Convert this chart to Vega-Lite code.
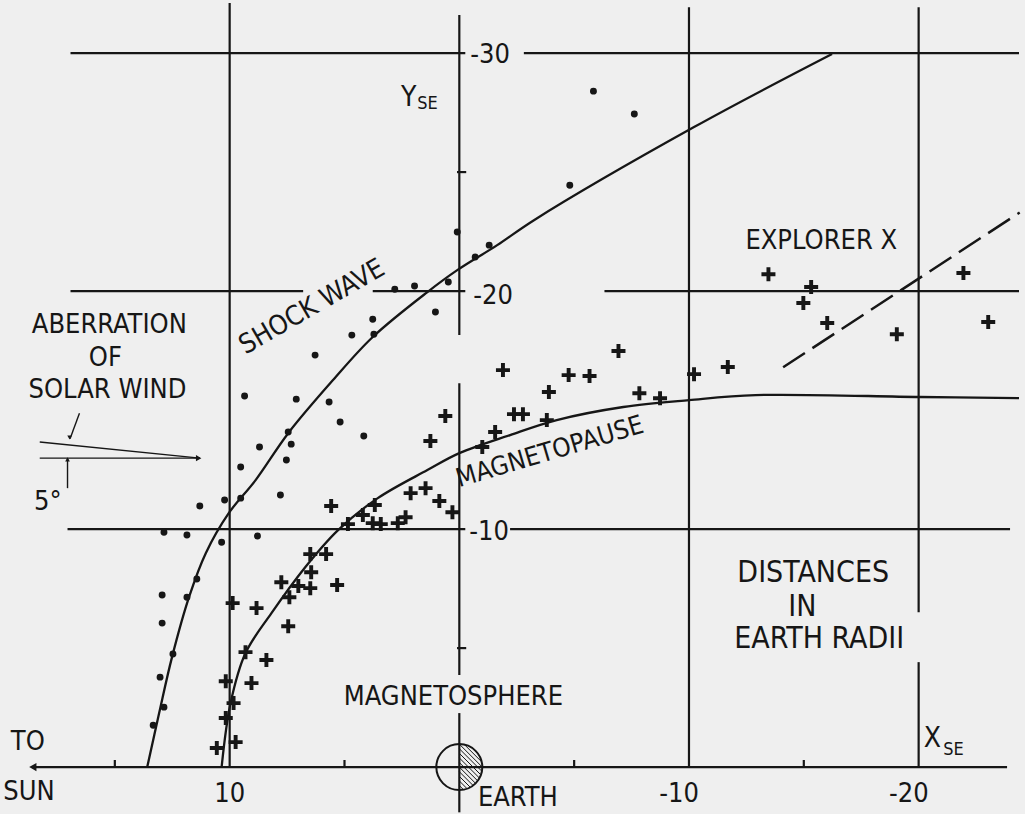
{
  "$schema": "https://vega.github.io/schema/vega-lite/v6.json",
  "width": 1025,
  "height": 814,
  "autosize": {"type": "fit", "contains": "padding"},
  "padding": 0,
  "background": "#efefef",
  "config": {"view": {"stroke": null}},
  "datasets": {
    "dots": [{"x":0.09,"y":-22.48},{"x":-0.69,"y":-21.43},{"x":-1.30,"y":-21.93},{"x":0.48,"y":-20.38},{"x":1.04,"y":-19.12},{"x":2.81,"y":-20.08},{"x":1.95,"y":-20.21},{"x":3.77,"y":-18.82},{"x":3.72,"y":-18.19},{"x":4.68,"y":-18.15},{"x":6.28,"y":-17.31},{"x":9.35,"y":-15.59},{"x":7.10,"y":-15.46},{"x":5.67,"y":-15.34},{"x":-5.84,"y":-28.40},{"x":-7.62,"y":-27.44},{"x":-4.81,"y":-24.45},{"x":5.19,"y":-14.50},{"x":4.16,"y":-13.91},{"x":7.45,"y":-14.08},{"x":7.32,"y":-13.57},{"x":8.70,"y":-13.45},{"x":7.53,"y":-12.90},{"x":9.52,"y":-12.61},{"x":7.79,"y":-11.43},{"x":9.52,"y":-11.30},{"x":10.22,"y":-11.22},{"x":11.30,"y":-10.97},{"x":12.86,"y":-9.87},{"x":11.86,"y":-9.75},{"x":8.79,"y":-9.71},{"x":10.35,"y":-9.45},{"x":11.43,"y":-7.90},{"x":12.94,"y":-7.23},{"x":11.86,"y":-7.14},{"x":12.94,"y":-6.05},{"x":12.47,"y":-4.75},{"x":13.03,"y":-3.78},{"x":12.86,"y":-2.52},{"x":13.33,"y":-1.76}],
    "plus": [{"x":5.58,"y":-10.97},{"x":4.85,"y":-10.21},{"x":6.49,"y":-8.95},{"x":5.80,"y":-8.95},{"x":6.45,"y":-8.19},{"x":7.75,"y":-7.77},{"x":7.01,"y":-7.61},{"x":6.49,"y":-7.52},{"x":5.32,"y":-7.65},{"x":7.40,"y":-7.14},{"x":9.87,"y":-6.89},{"x":8.83,"y":-6.68},{"x":7.45,"y":-5.92},{"x":9.31,"y":-4.83},{"x":8.40,"y":-4.50},{"x":10.17,"y":-3.61},{"x":9.05,"y":-3.53},{"x":9.83,"y":-2.69},{"x":10.17,"y":-2.06},{"x":9.74,"y":-1.05},{"x":10.56,"y":-0.80},{"x":0.61,"y":-14.75},{"x":1.26,"y":-13.70},{"x":4.20,"y":-10.59},{"x":3.68,"y":-11.01},{"x":3.77,"y":-10.25},{"x":3.42,"y":-10.21},{"x":2.68,"y":-10.25},{"x":2.34,"y":-10.50},{"x":2.12,"y":-11.51},{"x":1.47,"y":-11.72},{"x":0.87,"y":-11.18},{"x":0.30,"y":-10.71},{"x":-1.00,"y":-13.45},{"x":-1.56,"y":-14.08},{"x":-2.38,"y":-14.83},{"x":-2.77,"y":-14.83},{"x":-3.81,"y":-14.58},{"x":-1.90,"y":-16.68},{"x":-3.90,"y":-15.76},{"x":-4.76,"y":-16.47},{"x":-5.67,"y":-16.43},{"x":-6.93,"y":-17.48},{"x":-7.84,"y":-15.71},{"x":-8.74,"y":-15.50},{"x":-10.22,"y":-16.51},{"x":-11.69,"y":-16.81},{"x":-13.46,"y":-20.71},{"x":-15.32,"y":-20.17},{"x":-14.98,"y":-19.50},{"x":-16.02,"y":-18.66},{"x":-19.05,"y":-18.19},{"x":-21.95,"y":-20.76},{"x":-23.03,"y":-18.70}],
    "shock": [{"x":13.59,"y":0},{"x":13.07,"y":-2.27},{"x":12.51,"y":-4.62},{"x":11.77,"y":-7.14},{"x":11.04,"y":-8.99},{"x":10.04,"y":-10.67},{"x":8.87,"y":-12.06},{"x":7.45,"y":-14.03},{"x":5.50,"y":-16.26},{"x":3.77,"y":-18.07},{"x":1.39,"y":-19.96},{"x":0.09,"y":-20.88},{"x":-1.65,"y":-21.93},{"x":-3.25,"y":-22.98},{"x":-10.22,"y":-26.89},{"x":-16.23,"y":-29.96}],
    "dash": [{"x":-14.1,"y":-16.8},{"x":-24.4,"y":-23.3}],
    "mpause": [{"x":10.35,"y":0},{"x":9.96,"y":-2.69},{"x":9.31,"y":-4.79},{"x":8.18,"y":-6.47},{"x":6.71,"y":-8.40},{"x":5.28,"y":-9.96},{"x":3.55,"y":-11.30},{"x":1.39,"y":-12.48},{"x":0,"y":-13.19},{"x":-2.21,"y":-13.95},{"x":-4.24,"y":-14.58},{"x":-7.14,"y":-15.13},{"x":-10.0,"y":-15.42},{"x":-12.9,"y":-15.63},{"x":-20.04,"y":-15.55},{"x":-24.37,"y":-15.50}],
    "segs": [
      {"x":16.93,"y":-30,"x2":-0.26,"y2":-30},
      {"x":-2.81,"y":-30,"x2":-24.37,"y2":-30},
      {"x":16.93,"y":-20,"x2":6.80,"y2":-20},
      {"x":3.77,"y":-20,"x2":-0.26,"y2":-20},
      {"x":-6.32,"y":-20,"x2":-24.37,"y2":-20},
      {"x":17.06,"y":-10,"x2":-0.26,"y2":-10},
      {"x":-2.21,"y":-10,"x2":-23.98,"y2":-10},
      {"x":18.6,"y":0,"x2":-23.85,"y2":0},
      {"x":10,"y":-32.1,"x2":10,"y2":0},
      {"x":0,"y":-31.6,"x2":0,"y2":-18.15},
      {"x":0,"y":-16.13,"x2":0,"y2":-3.87},
      {"x":0,"y":-2.27,"x2":0,"y2":1.9},
      {"x":-10,"y":-31.93,"x2":-10,"y2":0},
      {"x":-20,"y":-31.93,"x2":-20,"y2":-6.51},
      {"x":-20,"y":-4.41,"x2":-20,"y2":0},
      {"x":15,"y":0,"x2":15,"y2":-0.3},
      {"x":5,"y":0,"x2":5,"y2":-0.3},
      {"x":-5,"y":0,"x2":-5,"y2":-0.3},
      {"x":-15,"y":0,"x2":-15,"y2":-0.3},
      {"x":0.1,"y":-25,"x2":-0.3,"y2":-25},
      {"x":0.1,"y":-5,"x2":-0.3,"y2":-5}
    ],
    "aber": [
      {"x":18.27,"y":-12.98,"x2":11.3,"y2":-12.98},
      {"x":18.27,"y":-13.66,"x2":11.3,"y2":-12.98},
      {"x":17.06,"y":-12.95,"x2":17.06,"y2":-11.72},
      {"x":16.54,"y":-14.87,"x2":16.95,"y2":-13.8}
    ],
    "earth": [{"x":0,"y":0}],
    "txtA": [
      {"x":15.24,"y":-18.57,"t":"ABERRATION"},
      {"x":15.41,"y":-17.18,"t":"OF"},
      {"x":15.32,"y":-15.84,"t":"SOLAR WIND"},
      {"x":0.26,"y":-2.94,"t":"MAGNETOSPHERE"},
      {"x":-15.76,"y":-22.10,"t":"EXPLORER X"},
      {"x":18.79,"y":-1.05,"t":"TO"},
      {"x":18.74,"y":1.05,"t":"SUN"},
      {"x":-2.55,"y":1.30,"t":"EARTH"},
      {"x":17.92,"y":-11.13,"t":"5°"}
    ],
    "ticks": [
      {"x":-1.34,"y":-29.92,"t":"-30"},
      {"x":-1.47,"y":-19.79,"t":"-20"},
      {"x":-1.30,"y":-9.87,"t":"-10"},
      {"x":10,"y":1.13,"t":"10"},
      {"x":-9.57,"y":1.13,"t":"-10"},
      {"x":-19.57,"y":1.13,"t":"-20"}
    ],
    "txtC": [
      {"x":-15.41,"y":-8.15,"t":"DISTANCES"},
      {"x":-14.94,"y":-6.72,"t":"IN"},
      {"x":-15.67,"y":-5.38,"t":"EARTH RADII"}
    ],
    "shockLbl": [{"x":6.41,"y":-19.33,"t":"SHOCK WAVE"}],
    "mpLbl": [{"x":-3.94,"y":-13.24,"t":"MAGNETOPAUSE"}],
    "axMain": [{"x":2.21,"y":-28.11,"t":"Y"},{"x":-20.6,"y":-1.18,"t":"X"}],
    "axSub": [{"x":1.39,"y":-27.86,"t":"SE"},{"x":-21.52,"y":-0.71,"t":"SE"}],
    "arrL": [{"x":18.57,"y":0}],
    "arrR": [{"x":11.35,"y":-12.98}],
    "arrD": [{"x":16.97,"y":-13.85}],
    "arrU": [{"x":17.06,"y":-12.93}]
  },
  "encoding": {
    "x": {"field": "x", "type": "quantitative", "scale": {"domain": [-24.37, 20], "reverse": true, "nice": false, "zero": false}, "axis": null},
    "y": {"field": "y", "type": "quantitative", "scale": {"domain": [-32.23, 1.97], "reverse": true, "nice": false, "zero": false}, "axis": null}
  },
  "layer": [
    {"data": {"name": "segs"}, "mark": {"type": "rule", "stroke": "#161616", "strokeWidth": 2.2},
     "encoding": {"x2": {"field": "x2"}, "y2": {"field": "y2"}}},
    {"data": {"name": "aber"}, "mark": {"type": "rule", "stroke": "#161616", "strokeWidth": 1.4},
     "encoding": {"x2": {"field": "x2"}, "y2": {"field": "y2"}}},
    {"data": {"name": "arrL"}, "mark": {"type": "point", "shape": "triangle-left", "filled": true, "fill": "#161616", "size": 70, "opacity": 1}},
    {"data": {"name": "arrR"}, "mark": {"type": "point", "shape": "triangle-right", "filled": true, "fill": "#161616", "size": 40, "opacity": 1}},
    {"data": {"name": "arrD"}, "mark": {"type": "point", "shape": "triangle-down", "filled": true, "fill": "#161616", "size": 22, "opacity": 1}},
    {"data": {"name": "arrU"}, "mark": {"type": "point", "shape": "triangle-up", "filled": true, "fill": "#161616", "size": 22, "opacity": 1}},
    {"data": {"name": "shock"}, "mark": {"type": "line", "stroke": "#161616", "strokeWidth": 2.3, "interpolate": "catmull-rom"}},
    {"data": {"name": "dash"}, "mark": {"type": "line", "stroke": "#161616", "strokeWidth": 2.5, "strokeDash": [26, 9]}},
    {"data": {"name": "mpause"}, "mark": {"type": "line", "stroke": "#161616", "strokeWidth": 2.3, "interpolate": "catmull-rom"}},
    {"data": {"name": "dots"}, "mark": {"type": "point", "shape": "circle", "filled": true, "fill": "#161616", "size": 48, "opacity": 1}},
    {"data": {"name": "plus"}, "mark": {"type": "point", "shape": "M-1,-0.28H-0.28V-1H0.28V-0.28H1V0.28H0.28V1H-0.28V0.28H-1Z", "filled": true, "fill": "#161616", "size": 196, "opacity": 1}},
    {"data": {"name": "earth"}, "mark": {"type": "point", "shape": "M0,0.8L0.183,0.983M0,0.6L0.34,0.94M0,0.4L0.478,0.878M0,0.2L0.6,0.8M0,0L0.707,0.707M0,-0.2L0.8,0.6M0,-0.4L0.878,0.478M0,-0.6L0.94,0.34M0,-0.8L0.983,0.183M0,-1L1,0M0.226,-0.974L0.974,-0.226M0.6,-0.8L0.8,-0.6", "filled": false, "stroke": "#161616", "strokeWidth": 1, "size": 2116, "opacity": 1}},
    {"data": {"name": "earth"}, "mark": {"type": "point", "shape": "circle", "filled": false, "stroke": "#161616", "strokeWidth": 2, "size": 2116, "opacity": 1}},
    {"data": {"name": "txtA"}, "mark": {"type": "text", "font": "Liberation Sans Narrow, DejaVu Sans Condensed, Roboto, sans-serif", "fontSize": 27, "fill": "#161616", "align": "center", "baseline": "middle"},
     "encoding": {"text": {"field": "t"}}},
    {"data": {"name": "ticks"}, "mark": {"type": "text", "font": "Liberation Sans Narrow, DejaVu Sans Condensed, Roboto, sans-serif", "fontSize": 27, "fill": "#161616", "align": "center", "baseline": "middle"},
     "encoding": {"text": {"field": "t"}}},
    {"data": {"name": "txtC"}, "mark": {"type": "text", "font": "Liberation Sans Narrow, DejaVu Sans Condensed, Roboto, sans-serif", "fontSize": 30, "fill": "#161616", "align": "center", "baseline": "middle"},
     "encoding": {"text": {"field": "t"}}},
    {"data": {"name": "shockLbl"}, "mark": {"type": "text", "font": "Liberation Sans Narrow, DejaVu Sans Condensed, Roboto, sans-serif", "fontSize": 27, "angle": -30, "fill": "#161616", "align": "center", "baseline": "middle"},
     "encoding": {"text": {"field": "t"}}},
    {"data": {"name": "mpLbl"}, "mark": {"type": "text", "font": "Liberation Sans Narrow, DejaVu Sans Condensed, Roboto, sans-serif", "fontSize": 26, "angle": -16.5, "fill": "#161616", "align": "center", "baseline": "middle"},
     "encoding": {"text": {"field": "t"}}},
    {"data": {"name": "axMain"}, "mark": {"type": "text", "font": "Liberation Sans Narrow, DejaVu Sans Condensed, Roboto, sans-serif", "fontSize": 28, "fill": "#161616", "align": "center", "baseline": "middle"},
     "encoding": {"text": {"field": "t"}}},
    {"data": {"name": "axSub"}, "mark": {"type": "text", "font": "Liberation Sans Narrow, DejaVu Sans Condensed, Roboto, sans-serif", "fontSize": 18, "fill": "#161616", "align": "center", "baseline": "middle"},
     "encoding": {"text": {"field": "t"}}}
  ]
}
